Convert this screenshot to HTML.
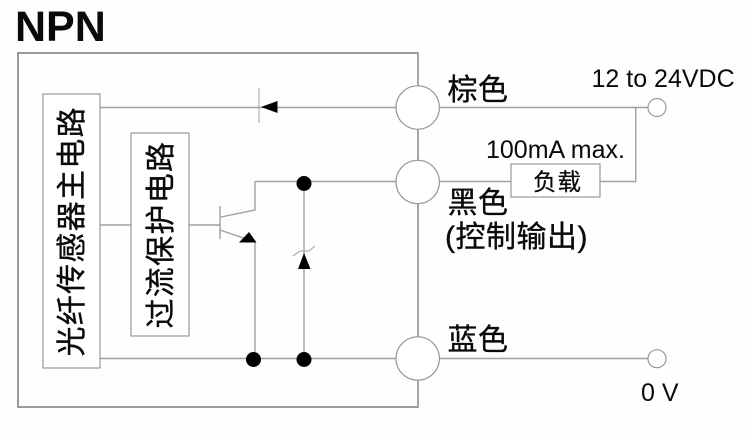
<!DOCTYPE html>
<html lang="zh">
<head>
<meta charset="utf-8">
<title>NPN</title>
<style>
html,body{margin:0;padding:0;background:#fefefe;width:753px;height:441px;overflow:hidden}
svg{display:block}
text{fill:#0a0a0a;font-family:"Liberation Sans","Noto Sans CJK SC",sans-serif}
.w{fill:none;stroke:#a0a0a0;stroke-width:1.4}
.o{fill:#fff;stroke:#999;stroke-width:1.2}
.k{fill:#000;stroke:none}
.l{font-size:25px}
.c{font-size:30px;letter-spacing:.5px;stroke:#0a0a0a;stroke-width:.35px}
.v{font-size:30px;letter-spacing:1.3px;stroke:#0a0a0a;stroke-width:.35px}
</style>
</head>
<body>
<svg width="753" height="441" viewBox="0 0 753 441" xmlns="http://www.w3.org/2000/svg">
<text x="15" y="41" style="font-size:43px;font-weight:bold">NPN</text>

<rect x="18" y="53" width="400" height="354" fill="none" stroke="#808080" stroke-width="1.6"/>

<!-- wires -->
<path class="w" d="M100 107.5H648M100 358.5H648M189 225H220M100 225H131M255 181.5H511M600 181.5H635.7V107.5M255 181.5V210L221 217M220 206V239M220 230L255 242V358M304 183V358M418 53V407"/>
<path class="w" style="stroke-width:1" d="M259 88V123"/>
<path class="w" style="stroke-width:1" d="M293 256L300 251H309L315 246"/>

<!-- blocks -->
<rect class="o" x="43" y="94" width="57" height="274"/>
<rect class="o" x="131" y="133" width="58" height="203"/>
<rect class="o" x="511" y="164" width="89" height="33"/>

<!-- terminals -->
<circle class="o" cx="417.7" cy="107.5" r="21.7"/>
<circle class="o" cx="417.7" cy="182" r="21.7"/>
<circle class="o" cx="417.7" cy="358.5" r="21.7"/>
<circle class="o" cx="657" cy="107.5" r="9"/>
<circle class="o" cx="657" cy="358.7" r="9"/>

<!-- dots and arrows -->
<circle class="k" cx="304" cy="183.5" r="7.5"/>
<circle class="k" cx="253.500" cy="359.5" r="7.5"/>
<circle class="k" cx="304" cy="359.5" r="7.5"/>
<path class="k" d="M261 107L277.500 101V113Z"/>
<path class="k" d="M249 232L256.500 242.500H239Z"/>
<path class="k" d="M304 253L310.500 269H298Z"/>

<!-- labels -->
<text class="c" x="447.500" y="100">棕色</text>
<text class="c" x="447.500" y="213">黑色</text>
<text class="c" x="445" y="247">(控制输出)</text>
<text class="c" x="447.500" y="350">蓝色</text>
<text x="533" y="190" style="font-size:23.500px;letter-spacing:1px;stroke:#0a0a0a;stroke-width:.25px">负载</text>
<text class="l" x="591.500" y="87">12 to 24VDC</text>
<text class="l" x="486" y="158">100mA max.</text>
<text class="l" x="641" y="401">0 V</text>

<text class="v" transform="translate(82,356.500) rotate(-90)">光纤传感器主电路</text>
<text class="v" transform="translate(171,328.500) rotate(-90)">过流保护电路</text>
</svg>
</body>
</html>
